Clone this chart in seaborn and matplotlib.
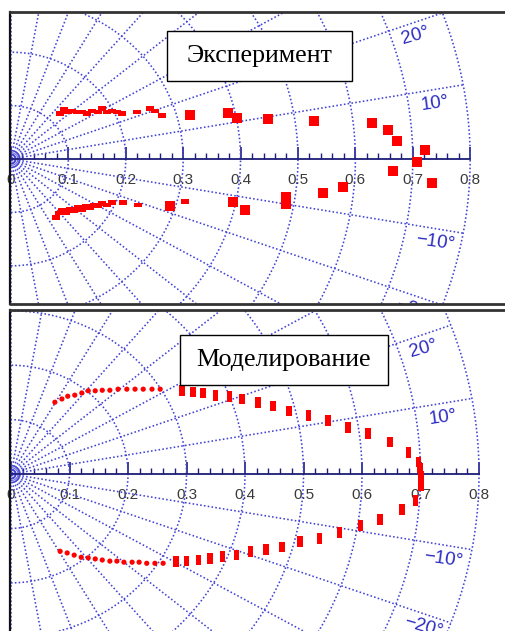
import numpy as np
import matplotlib
matplotlib.use("Agg")
import matplotlib.pyplot as plt
from matplotlib.markers import MarkerStyle
from matplotlib.path import Path
from matplotlib.patches import Rectangle
import seaborn as sns

# ---------------- data (x = r*cos(phi), y = r*sin(phi)) ----------------
# Experiment: large measured points
exp_x = [0.312, 0.378, 0.394, 0.448, 0.528, 0.629, 0.657, 0.672, 0.721, 0.707,
         0.666, 0.733, 0.578, 0.544, 0.479, 0.479, 0.408, 0.387, 0.277]
exp_y = [0.082, 0.086, 0.077, 0.075, 0.071, 0.067, 0.054, 0.034, 0.017, -0.006,
         -0.022, -0.045, -0.052, -0.064, -0.071, -0.084, -0.096, -0.081, -0.088]

# Experiment: dense small marks close to the source
exp_fine_x = [0.085, 0.092, 0.099, 0.106, 0.115, 0.124, 0.132, 0.141, 0.152, 0.159,
              0.167, 0.176, 0.185, 0.193, 0.220, 0.242, 0.251, 0.263,
              0.078, 0.084, 0.089, 0.096, 0.103, 0.110, 0.117, 0.124, 0.131,
              0.138, 0.145, 0.152, 0.159, 0.167, 0.176, 0.195, 0.221, 0.303]
exp_fine_y = [0.086, 0.092, 0.088, 0.090, 0.088, 0.088, 0.086, 0.090, 0.088, 0.094,
              0.088, 0.090, 0.088, 0.086, 0.088, 0.094, 0.090, 0.082,
              -0.109, -0.101, -0.097, -0.101, -0.094, -0.096, -0.090, -0.094, -0.088,
              -0.090, -0.086, -0.088, -0.084, -0.086, -0.082, -0.082, -0.086, -0.079]

# Simulation: fine dots near the source
sim_dot_x = [0.075, 0.087, 0.097, 0.109, 0.121, 0.132, 0.144, 0.156, 0.169, 0.183,
             0.198, 0.212, 0.226, 0.241, 0.255,
             0.084, 0.096, 0.108, 0.120, 0.132, 0.144, 0.156, 0.169, 0.181, 0.193,
             0.207, 0.219, 0.232, 0.246, 0.260]
sim_dot_y = [0.132, 0.138, 0.143, 0.145, 0.149, 0.153, 0.153, 0.154, 0.154, 0.156,
             0.156, 0.156, 0.156, 0.156, 0.156,
             -0.142, -0.145, -0.149, -0.153, -0.154, -0.156, -0.158, -0.160, -0.160, -0.162,
             -0.162, -0.162, -0.164, -0.164, -0.164]

# Simulation: outer part of the contour
sim_bar_x = [0.292, 0.311, 0.328, 0.350, 0.373, 0.395, 0.422, 0.448, 0.475, 0.508,
             0.542, 0.576, 0.610, 0.648, 0.679, 0.696, 0.699, 0.701, 0.701,
             0.282, 0.300, 0.320, 0.340, 0.362, 0.385, 0.409, 0.436, 0.463, 0.494,
             0.527, 0.561, 0.597, 0.631, 0.668, 0.691]
sim_bar_y = [0.153, 0.151, 0.149, 0.145, 0.142, 0.138, 0.131, 0.125, 0.116, 0.108,
             0.099, 0.086, 0.075, 0.059, 0.040, 0.022, 0.011, -0.004, -0.022,
             -0.161, -0.160, -0.158, -0.155, -0.152, -0.149, -0.143, -0.138, -0.134, -0.124,
             -0.118, -0.108, -0.094, -0.083, -0.065, -0.048]

# ---------------- axis / grid description ----------------
r_ticks = [0, 0.1, 0.2, 0.3, 0.4, 0.5, 0.6, 0.7, 0.8]
r_tick_labels = ["0", "0.1", "0.2", "0.3", "0.4", "0.5", "0.6", "0.7", "0.8"]
angle_marks = [20, 10, -10, -20]
angle_labels = ["20°", "10°", "\u221210°", "\u221220°"]
panel_titles = ["Эксперимент", "Моделирование"]

GRID_COLOR = "#4343d6"
AXIS_COLOR = "#1e1e78"
LABEL_BLUE = "#2c2cc2"

sns.set_style("white")
plt.rcParams["font.family"] = ["Liberation Sans", "DejaVu Sans"]

W, H = 505, 631
fig = plt.figure(figsize=(W / 100, H / 100), dpi=100)


def px_axes(left, top, right, bottom):
    return fig.add_axes([left / W, 1 - bottom / H, (right - left) / W, (bottom - top) / H])


def polar_frame(ax, xlim, ylim):
    ax.set_xlim(*xlim)
    ax.set_ylim(*ylim)
    ax.set_facecolor("white")
    # dotted polar grid, limited to r <= 0.8
    phi = np.radians(np.linspace(-90, 90, 361))
    for r in r_ticks[1:]:
        ax.plot(r * np.cos(phi), r * np.sin(phi), color=GRID_COLOR,
                lw=1.15, ls=(0, (1, 1.4)), zorder=1)
    for r in [0.004, 0.008, 0.012, 0.016]:
        ax.plot(r * np.cos(phi), r * np.sin(phi), color=GRID_COLOR,
                lw=0.8, alpha=0.8, zorder=1)
    for deg in range(-90, 91, 10):
        if deg == 0:
            continue
        a = np.radians(deg)
        ax.plot([0, 0.8 * np.cos(a)], [0, 0.8 * np.sin(a)], color=GRID_COLOR,
                lw=1.15, ls=(0, (1, 1.4)), zorder=1)
    # angle captions below their rays
    for deg, lab in zip(angle_marks, angle_labels):
        a = np.radians(deg)
        ax.annotate(lab, xy=(0.75 * np.cos(a), 0.75 * np.sin(a)), xytext=(0, -10),
                    textcoords="offset points", ha="center", va="center",
                    rotation=0.8 * deg, fontsize=13.5, color=LABEL_BLUE,
                    annotation_clip=False, clip_on=True, zorder=2)
    # radial axis drawn as the bottom spine moved to y = 0
    sp = ax.spines["bottom"]
    sp.set_position(("data", 0))
    sp.set_bounds(0, 0.8)
    sp.set_color(AXIS_COLOR)
    sp.set_linewidth(1.3)
    ax.set_xticks(r_ticks)
    ax.set_xticklabels(r_tick_labels)
    ax.set_xticks(np.arange(0, 0.801, 0.02), minor=True)
    ax.tick_params(axis="x", which="major", direction="in", length=9, width=1.2,
                   color=AXIS_COLOR, labelsize=11, labelcolor="#3a3a3a", pad=10,
                   bottom=True)
    ax.tick_params(axis="x", which="minor", direction="in", length=4.5, width=1.0,
                   color=AXIS_COLOR, bottom=True)
    ax.set_yticks([])
    ax.spines["left"].set_color("#111111")
    ax.spines["left"].set_linewidth(1.6)
    ax.spines["top"].set_color("#333333")
    ax.spines["top"].set_linewidth(2.0)
    ax.spines["right"].set_visible(False)
    # lower frame edge of the panel
    ax.plot([0, 1], [0, 0], transform=ax.transAxes, color="#333333", lw=2.0,
            clip_on=False, zorder=5)


def title_box(left, top, right, bottom, text):
    fig.add_artist(Rectangle((left / W, 1 - bottom / H), (right - left) / W,
                             (bottom - top) / H, transform=fig.transFigure,
                             facecolor="white", edgecolor="black", lw=1.0, zorder=4))
    fig.text((left + right) / 2 / W, 1 - (top + bottom) / 2 / H, text,
             ha="center", va="center", fontsize=18.7, family="Liberation Serif",
             color="black", zorder=5)


square = MarkerStyle("s")
hdash = MarkerStyle(Path([(-1, -0.6), (1, -0.6), (1, 0.6), (-1, 0.6), (-1, -0.6)],
                         closed=True))
vbar = MarkerStyle(Path([(-0.5, -1), (0.5, -1), (0.5, 1), (-0.5, 1), (-0.5, -1)],
                        closed=True))

# ---------------- top panel: experiment ----------------
ax1 = px_axes(10, 12, 520, 304)
polar_frame(ax1, (-0.0017, 0.8868), (-0.2715, 0.2753))
sns.scatterplot(x=exp_fine_x, y=exp_fine_y, marker=hdash, s=34, color="#ff0000",
                linewidth=0, edgecolor="none", ax=ax1, zorder=3)
sns.scatterplot(x=exp_x, y=exp_y, marker=square, s=56, color="#ff0000",
                linewidth=0, edgecolor="none", ax=ax1, zorder=3)
title_box(167, 31, 352, 81, panel_titles[0])

# ---------------- bottom panel: simulation ----------------
ax2 = px_axes(10, 310, 520, 640)
polar_frame(ax2, (-0.0017, 0.870), (-0.305, 0.3015))
sns.scatterplot(x=sim_dot_x, y=sim_dot_y, marker="o", s=14, color="#ff0000",
                linewidth=0, edgecolor="none", ax=ax2, zorder=3)
sns.scatterplot(x=sim_bar_x, y=sim_bar_y, marker=vbar, s=60, color="#ff0000",
                linewidth=0, edgecolor="none", ax=ax2, zorder=3)
title_box(180, 335, 388, 385, panel_titles[1])

fig.savefig("out.png", dpi=100, facecolor="white")
